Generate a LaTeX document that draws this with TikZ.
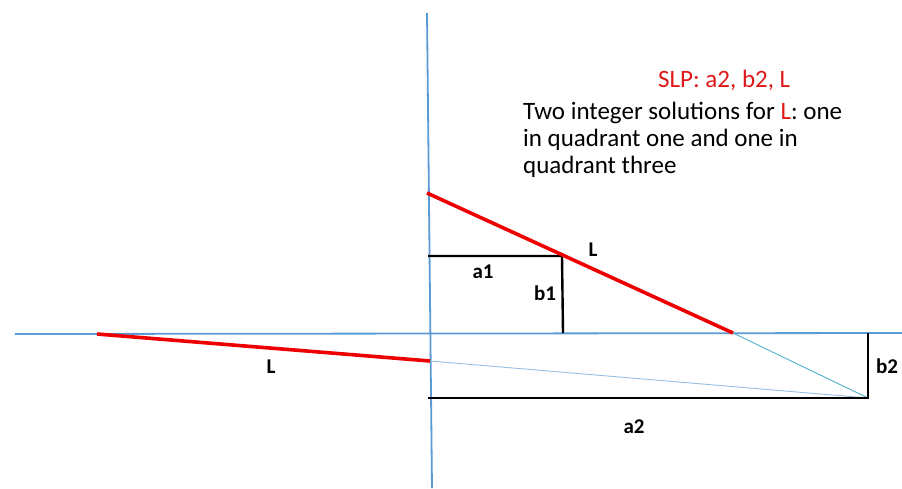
\documentclass[tikz,border=0pt]{standalone}
\usepackage{fontspec}
\setmainfont{Carlito}
\definecolor{axisblue}{RGB}{91,155,213}
\definecolor{solred}{RGB}{238,0,0}
\definecolor{textred}{RGB}{222,24,24}
\definecolor{thinblue}{RGB}{150,190,228}
\definecolor{thincyan}{RGB}{80,175,205}
\begin{document}
\begin{tikzpicture}[x=1pt,y=-1pt,
  axis/.style={axisblue,line width=1.8pt},
  sol/.style={solred,line width=3.6pt},
  leg/.style={black,line width=2.4pt},
  helper/.style={line width=0.9pt},
  lbl/.style={inner sep=0pt,font=\fontsize{21}{24}\selectfont\bfseries}]

\useasboundingbox (0,0) rectangle (902,488);

% Achsen
\coordinate (ytop) at (427,13);
\coordinate (ybot) at (432,488);
\coordinate (xleft) at (15,334);
\coordinate (xright) at (902,333);
\draw[axis] (ytop) -- (ybot);
\draw[axis] (xleft) -- (xright);

% Punkte
\coordinate (p1) at (427,193);
\coordinate (q1) at (733,333);
\coordinate (p3) at (97,334);
\coordinate (q3) at (430,361);
\coordinate (c2) at (868,398);
\coordinate (a1) at (428,256);
\coordinate (t1) at (562,256);
\coordinate (f1) at (563,333);
\coordinate (a2) at (428,398);
\coordinate (t2) at (868,333);

% duenne Hilfslinien
\draw[helper,thinblue] (q3) -- (c2);
\draw[helper,thincyan] (q1) -- (c2);

% Katheten
\draw[leg] (a1) -- (t1) -- (f1);
\draw[leg] (a2) -- (c2) -- (t2);

% zwei Loesungen L
\draw[sol] (p1) -- (q1);
\draw[sol] (p3) -- (q3);

% Beschriftungen
\node[lbl] (la1) at (483,272) {a1};
\node[lbl] (lb1) at (545,293) {b1};
\node[lbl] (lL1) at (593,250) {L};
\node[lbl] (lL3) at (271,367) {L};
\node[lbl] (lb2) at (887,366) {b2};
\node[lbl] (la2) at (634,427) {a2};

% Text
\node[anchor=base west,inner sep=0pt,textred,font=\fontsize{25}{27}\selectfont]
  (slp) at (658,87) {SLP: a2, b2, L};
\node[anchor=north west,inner sep=0pt,align=left,font=\fontsize{25}{27}\selectfont]
  (info) at (523,102) {Two integer solutions for \textcolor{textred}{L}: one\\
  in quadrant one and one in\\quadrant three};

\end{tikzpicture}
\end{document}
